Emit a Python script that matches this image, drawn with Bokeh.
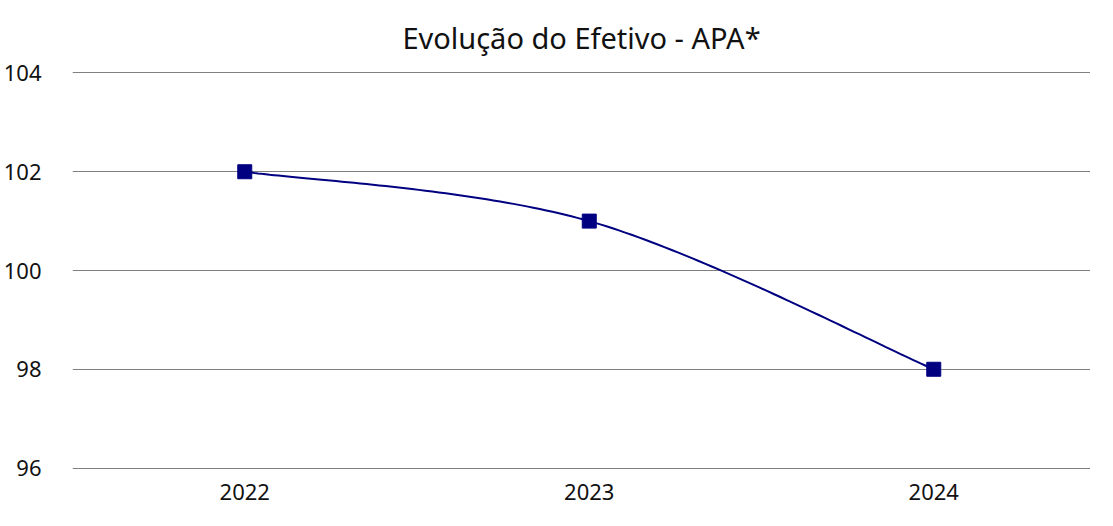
import numpy as np
from bokeh.plotting import figure
from bokeh.models import Range1d, FixedTicker
from bokeh.embed import file_html
from bokeh.resources import INLINE

years = ["2022", "2023", "2024"]
efetivo = [102, 101, 98]
y_ticks = [96, 98, 100, 102, 104]

xs = np.arange(len(years)) + 0.5
ys = np.array(efetivo, dtype=float)

# Catmull-Rom smoothing through the data points
px = np.concatenate([[xs[0]], xs, [xs[-1]]])
py = np.concatenate([[ys[0]], ys, [ys[-1]]])
cx, cy = [], []
t = np.linspace(0, 1, 60)
for i in range(1, len(px) - 2):
    p0, p1, p2, p3 = [np.array([px[j], py[j]]) for j in (i - 1, i, i + 1, i + 2)]
    for tt in t:
        pt = 0.5 * ((2 * p1) + (-p0 + p2) * tt + (2 * p0 - 5 * p1 + 4 * p2 - p3) * tt ** 2
                    + (-p0 + 3 * p1 - 3 * p2 + p3) * tt ** 3)
        cx.append(pt[0]); cy.append(pt[1])

FONT = "Noto Sans"
p = figure(width=1090, height=505, output_backend="svg", toolbar_location=None,
           x_range=Range1d(0, 2.955), y_range=Range1d(95.97, 104.03),
           title="Evolução do Efetivo - APA*",
           min_border_left=67, min_border_right=0, min_border_top=66, min_border_bottom=36)
p.title.align = "center"
p.title.text_font = FONT
p.title.text_font_size = "29px"
p.title.text_font_style = "normal"
p.title.text_color = "#111111"
p.title.offset = 0
p.title.standoff = 30
p.outline_line_color = None

p.line(cx, cy, line_color="#000080", line_width=2)
p.scatter(xs, ys, marker="square", size=14, fill_color="#000080", line_color="#000080")

p.xaxis.ticker = FixedTicker(ticks=list(xs))
p.xaxis.major_label_overrides = {float(x): y for x, y in zip(xs, years)}
p.yaxis.ticker = FixedTicker(ticks=y_ticks)
for ax in (p.xaxis[0], p.yaxis[0]):
    ax.axis_line_color = None
    ax.major_tick_line_color = None
    ax.minor_tick_line_color = None
    ax.major_label_text_font = FONT
    ax.major_label_text_font_size = "22px"
    ax.major_label_text_color = "#111111"
p.yaxis.major_label_standoff = 25
p.xaxis.major_label_standoff = 8
p.xgrid.grid_line_color = None
p.ygrid.ticker = FixedTicker(ticks=y_ticks)
p.ygrid.grid_line_color = "#808080"
p.ygrid.grid_line_width = 1.2

open("out.html", "w").write(file_html(p, INLINE))
